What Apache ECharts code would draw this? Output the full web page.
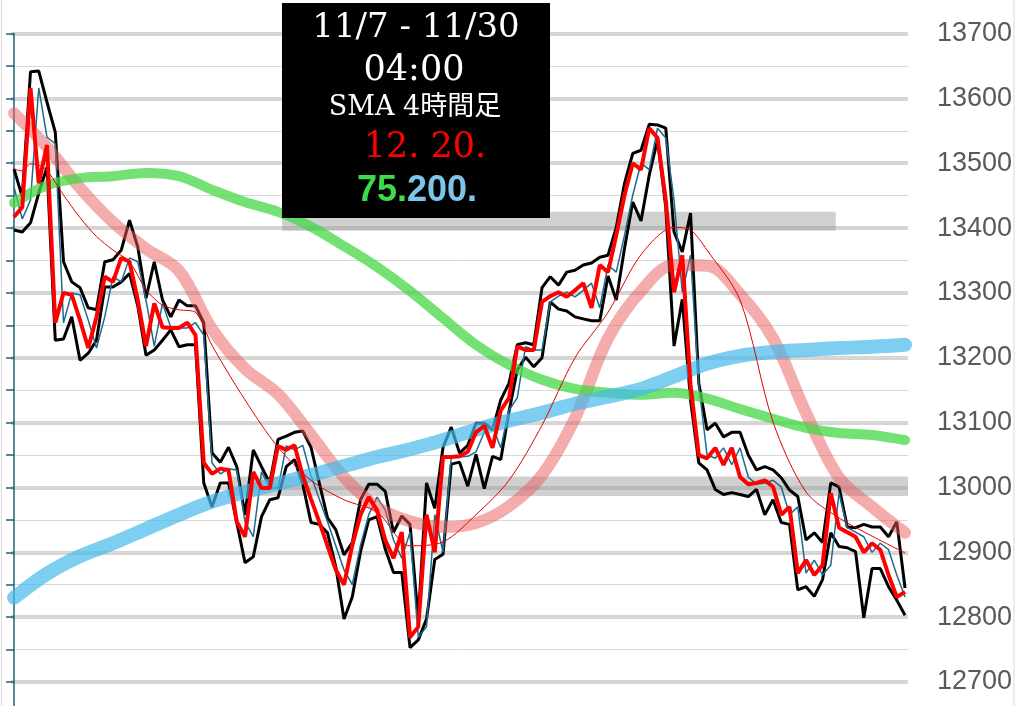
<!DOCTYPE html>
<html><head><meta charset="utf-8">
<script src="https://cdn.jsdelivr.net/npm/echarts@6/dist/echarts.min.js"></script>
<style>html,body{margin:0;padding:0;background:#fff}#c{width:1015px;height:706px}</style>
</head><body><div id="c"></div>
<script>
// 4-hour bars, 11/7 - 11/30 (index 0..108)
const closeP = [13417,13432,13616,13469,13528,13254,13300,13297,13258,13215,13263,13325,13317,13354,13348,13289,13218,13284,13247,13246,13246,13254,13235,13038,13021,13029,13027,12947,12924,13024,12999,12999,13064,13058,13065,13018,12982,12947,12910,12873,12850,12911,12958,12985,12965,12919,12891,12931,12769,12785,12958,12900,13047,13047,13048,13055,13085,13095,13061,13119,13138,13217,13212,13212,13286,13295,13301,13294,13304,13315,13277,13343,13332,13389,13451,13500,13490,13554,13539,13443,13301,13358,13158,13050,13045,13061,13035,13061,13016,13005,13007,13011,13001,12958,12970,12868,12888,12865,12880,12991,12938,12931,12924,12900,12914,12904,12865,12831,12839];
const openP = [13463,13414,13443,13616,13540,13530,13254,13300,13297,13258,13215,13263,13325,13317,13354,13348,13289,13218,13284,13247,13246,13246,13254,13235,13038,13021,13029,13027,12947,12924,13024,12999,12999,13064,13058,13065,13018,12982,12947,12910,12873,12850,12911,12958,12985,12965,12919,12891,12931,12769,12785,12958,12900,13047,13047,13048,13055,13085,13095,13061,13119,13138,13217,13212,13212,13286,13295,13301,13294,13304,13315,13277,13343,13332,13389,13451,13500,13490,13554,13539,13443,13301,13358,13158,13050,13045,13061,13035,13061,13016,13005,13007,13011,13001,12958,12970,12868,12888,12865,12880,12991,12938,12931,12924,12900,12914,12904,12865,12831];
const highP = [13491,13448,13641,13642,13594,13548,13348,13317,13308,13277,13274,13348,13351,13366,13412,13371,13292,13348,13289,13263,13289,13280,13280,13254,13053,13039,13062,13032,12958,13058,13032,13007,13074,13079,13085,13087,13062,13007,12953,12935,12896,12915,12981,13005,13005,12994,12931,12956,12943,12797,13007,12968,13062,13093,13053,13065,13099,13099,13089,13135,13161,13220,13223,13220,13308,13325,13312,13332,13335,13343,13346,13355,13358,13401,13469,13515,13520,13560,13559,13554,13394,13363,13423,13161,13089,13099,13078,13085,13085,13050,13027,13032,13027,13015,12996,12986,12919,12930,12915,13007,13001,12939,12938,12943,12939,12939,12924,12947,12845];
const lowP = [13397,13394,13408,13454,13494,13227,13229,13263,13196,13207,13227,13309,13309,13317,13330,13280,13204,13212,13227,13243,13217,13220,13220,13007,12970,13007,13007,12946,12884,12893,12955,12981,12984,13032,13043,13005,12946,12943,12930,12878,12797,12831,12901,12950,12955,12905,12869,12869,12753,12765,12797,12889,12897,13036,13039,13002,13051,12998,13048,13043,13117,13181,13201,13186,13200,13286,13275,13272,13263,13260,13257,13257,13326,13289,13369,13440,13411,13482,13536,13432,13218,13290,13135,13038,13027,12997,12989,12992,12989,12986,12997,12958,12981,12946,12943,12842,12847,12832,12858,12930,12909,12907,12901,12799,12875,12875,12847,12826,12803];

// moving averages, sampled at bar indices
const maIdx = [0,4,8,12,16,20,24,28,32,36,40,44,48,52,56,60,64,68,72,76,80,84,88,92,96,100,104,108];
const sma20 = [13577,13525,13462,13409,13368,13334,13244,13183,13144,13081,13016,12970,12948,12939,12945,12971,13019,13107,13230,13303,13343,13342,13298,13230,13115,13015,12970,12930];
const sma75 = [13439,13466,13477,13480,13485,13480,13459,13440,13425,13402,13372,13340,13303,13261,13220,13189,13166,13152,13146,13143,13146,13137,13121,13106,13092,13084,13081,13073];
const sma200 = [12830,12867,12894,12914,12936,12958,12978,12993,13006,13019,13033,13047,13059,13073,13089,13103,13115,13129,13140,13152,13171,13191,13203,13209,13212,13215,13217,13220];
const sma12Idx = [0,1,2,3,4,6,8,10,12,14,16,18,20,22,24,28,32,36,40,44,48,52,56,60,64,68,72,76,80,82,84,88,92,96,100,104,108];
const sma12 = [13491,13488,13499,13497,13489,13451,13416,13387,13366,13348,13305,13281,13274,13270,13219,13135,13062,13011,12981,12962,12910,12916,12958,13011,13096,13200,13270,13359,13401,13397,13366,13289,13101,12993,12953,12925,12899];

// shaded reference zones: [fromIndex, toIndex, upper, lower]
const zones = [[32.5, 99.6, 13425, 13396],[25.9, 109.0, 13017, 12987]];

const yTicks = {min:12700, max:13700, step:100};
const titleLines = ['11/7 - 11/30','04:00','SMA 4時間足','12. 20.','75.','200.'];

const idx = closeP.map((_, i) => i);
const pair = (xs, ys) => xs.map((x, k) => [x, ys[k]]);
const X_MIN = -0.364, X_MAX = 108.36;

const chart = echarts.init(document.getElementById('c'));
const line = (name, xs, ys, style, z, smooth) => ({
  name, type:'line', xAxisIndex:0, yAxisIndex:0, data: pair(xs, ys), symbol:'none',
  smooth: smooth || false, lineStyle: style, z, silent:true
});

chart.setOption({
  animation:false,
  grid:[{left:11,right:107,top:33.5,bottom:24,containLabel:false,outerBoundsMode:'none'},
        {left:11,right:107,top:33.5,bottom:-8.4,containLabel:false,outerBoundsMode:'none'}],
  xAxis:[{type:'value',gridIndex:0,min:X_MIN,max:X_MAX,show:false},
         {type:'value',gridIndex:1,min:X_MIN,max:X_MAX,show:false}],
  yAxis:[
    {type:'value',gridIndex:0,position:'right',min:yTicks.min,max:yTicks.max,interval:yTicks.step,
     axisLine:{show:false},axisTick:{show:false},
     axisLabel:{fontSize:27,color:'#595959',margin:29,fontFamily:'Liberation Sans',formatter:v => String(v)},
     splitLine:{lineStyle:{color:'#d4d4d4',width:4}}},
    {type:'value',gridIndex:1,position:'left',min:12650,max:13700,interval:50,
     axisLine:{show:true,lineStyle:{color:'#245f7c',width:1.5}},
     axisTick:{show:true,inside:false,length:8,lineStyle:{color:'#245f7c',width:1.5}},
     axisLabel:{show:false},
     splitLine:{lineStyle:{color:'#d9d9d9',width:1}}}
  ],
  series:[
    line('high', idx, highP, {color:'#000',width:3}, 2),
    line('low', idx, lowP, {color:'#000',width:3}, 2),
    line('open', idx, openP, {color:'#1f6a8c',width:1.5}, 2),
    line('SMA20', maIdx, sma20, {color:'rgba(235,90,90,0.5)',width:12,cap:'round'}, 3, 0.35),
    line('SMA75', maIdx, sma75, {color:'rgba(70,215,70,0.75)',width:10,cap:'round'}, 3, 0.35),
    line('SMA200', maIdx, sma200, {color:'rgba(70,185,235,0.7)',width:14,cap:'round'}, 3, 0.35),
    line('SMA12', sma12Idx, sma12, {color:'#e00000',width:1}, 4, 0.3),
    line('close', idx, closeP, {color:'#ff0000',width:4}, 5),
    {type:'line', xAxisIndex:0, yAxisIndex:0, data:[[0,13000]], symbol:'none', lineStyle:{opacity:0},
     clip:false, z:20, silent:true,
     markArea:{silent:true, itemStyle:{color:'rgba(150,150,150,0.45)'},
       data: zones.map(z => [{coord:[z[0], z[2]]},{coord:[z[1], z[3]]}])}}
  ],
  graphic:[
    {type:'rect', shape:{x:1.5,y:-2,width:1012.5,height:712}, style:{fill:'none',stroke:'#d9d9d9',lineWidth:1}, z:1, silent:true},
    {type:'rect', shape:{x:282,y:3,width:268,height:215}, style:{fill:'#000'}, z:10, silent:true},
    {type:'text', x:416, y:28, z:11, style:{text:titleLines[0], fill:'#fff', fontSize:34, fontFamily:'DejaVu Serif', align:'center', verticalAlign:'middle'}},
    {type:'text', x:414, y:71, z:11, style:{text:titleLines[1], fill:'#fff', fontSize:35, fontFamily:'DejaVu Serif', align:'center', verticalAlign:'middle'}},
    {type:'text', x:415, y:108, z:11, style:{text:titleLines[2], fill:'#fff', fontSize:27, fontFamily:'DejaVu Serif, "Noto Sans CJK JP"', align:'center', verticalAlign:'middle'}},
    {type:'text', x:425, y:148, z:11, style:{text:titleLines[3], fill:'#ff0000', fontSize:35, fontFamily:'DejaVu Serif', align:'center', verticalAlign:'middle'}},
    {type:'text', x:407, y:191, z:11, style:{text:titleLines[4], fill:'#3ddc4a', fontSize:36, fontWeight:'bold', fontFamily:'Liberation Sans', align:'right', verticalAlign:'middle'}},
    {type:'text', x:407, y:191, z:11, style:{text:titleLines[5], fill:'#7ec4e8', fontSize:36, fontWeight:'bold', fontFamily:'Liberation Sans', align:'left', verticalAlign:'middle'}}
  ]
});
</script></body></html>
